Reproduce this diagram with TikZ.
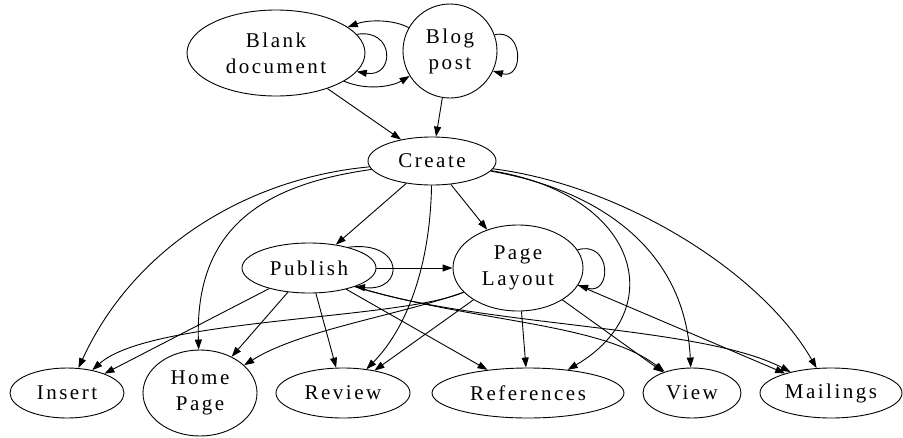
\documentclass[tikz,border=0pt]{standalone}
\usepackage{fontspec}
\setmainfont{Liberation Serif}[LetterSpace=12]
\usetikzlibrary{shapes.geometric,arrows.meta}
\tikzset{
  lbl/.style={font=\fontsize{21}{26}\selectfont, align=center, inner sep=0pt},
  ell/.style n args={2}{lbl, draw, ellipse, line width=0.9pt, minimum width=#1, minimum height=#2},
  conn/.style={draw, line width=0.9pt, -{Triangle[length=10pt,width=7pt]}},
}
\begin{document}
\begin{tikzpicture}[x=1pt,y=-1pt]
\useasboundingbox (0,0) rectangle (903,437);

% nodes
\node[ell={178pt}{86pt}] (blank) at (276,53) {Blank\\document};
\node[lbl, draw, circle, line width=0.9pt, minimum size=94pt] (blog) at (450,51) {Blog\\post};
\node[ell={128pt}{48pt}] (create) at (432,161) {Create};
\node[ell={134pt}{50pt}] (publish) at (309,268) {Publish};
\node[ell={130pt}{86pt}] (layout) at (518,268) {Page\\Layout};
\node[ell={114pt}{50pt}] (insert) at (67,393) {Insert};
\node[ell={114pt}{86pt}] (home) at (200,393) {Home\\Page};
\node[ell={134pt}{50pt}] (review) at (343,393) {Review};
\node[ell={192pt}{50pt}] (refs) at (528,393) {References};
\node[ell={98pt}{50pt}] (view) at (692,393) {View};
\node[ell={142pt}{50pt}] (mail) at (831,393) {Mailings};

% top pair
\path[conn] (blog) .. controls (395,20) and (370,19) .. (blank);
\path[conn] (blank.13) .. controls (395,28) and (395,78) .. (blank.-13);
\path[conn] (blank) .. controls (370,92) and (395,85) .. (blog);
\path[conn] (blog.20) .. controls (524,28) and (524,80) .. (blog.-25);
\path[conn] (blank) -- (create);
\path[conn] (blog) -- (create);

% out of Create
\path[conn] (create) -- (publish);
\path[conn] (create) -- (layout);
\path[conn] (create) .. controls (250,178) and (135,245) .. (insert);
\path[conn] (create) .. controls (260,185) and (195,230) .. (home);
\path[conn] (create) .. controls (430,270) and (405,330) .. (review);
\path[conn] (create) .. controls (640,195) and (670,310) .. (refs);
\path[conn] (create) .. controls (600,190) and (685,250) .. (view);
\path[conn] (create) .. controls (620,185) and (760,270) .. (mail);

% out of Publish
\path[conn] (publish) -- (layout);
\path[conn] (publish.28) .. controls (405,240) and (405,292) .. (publish.-22);
\path[conn] (publish) -- (insert);
\path[conn] (publish) -- (home);
\path[conn] (publish) -- (review);
\path[conn] (publish) -- (refs);
\path[conn] (publish.-22) .. controls (470,322) and (600,322) .. (view);
\path[conn] (publish.-22) .. controls (480,327) and (700,325) .. (mail);

% out of Page Layout
\path[conn] (layout.17) .. controls (612,240) and (612,296) .. (layout.-16);
\path[conn] (layout.204) .. controls (400,320) and (150,318) .. (insert);
\path[conn] (layout.204) .. controls (400,315) and (300,330) .. (home);
\path[conn] (layout) -- (review);
\path[conn] (layout) -- (refs);
\path[conn] (layout) -- (view);
\path[conn] (layout.-16) -- (mail);
\end{tikzpicture}
\end{document}
